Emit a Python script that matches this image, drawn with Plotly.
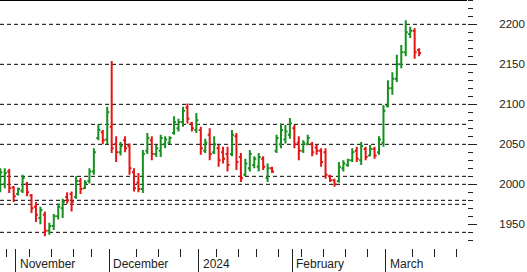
import plotly.graph_objects as go

# trading-day index (0 = Oct 26 2023 ... 94 = Mar 12 2024)
opens = [1998, 2000, 2016, 1996, 1988, 1992, 2000, 1986, 1972, 1958, 1962, 1942, 1948, 1960, 1970,
         1984, 1988, 1984, 2004, 1995, 2004, 2016, 2058, 2065, 2056, 2072, 2050, 2040, 2055, 2048,
         2015, 2002, 1994, 2042, 2055, 2038, 2042, 2050, 2052, 2064, 2070, 2078, 2096, 2076, 2068,
         2068, 2042, 2062, 2040, 2045, 2040, 2038, 2038, 2060, 2034, 2012, 2020, 2024, 2022, 2032,
         2008, 2020, 2042, 2050, 2056, 2062, 2070, 2052, 2042, 2050, 2050, 2046, 2042, 2040, 2010,
         2005, 2004, 2020, 2024, 2030, 2042, 2030, 2044, 2036, 2044, 2040, 2052, 2098, 2120, 2132,
         2150, 2165, 2188, 2192, 2168]
highs = [2020, 2020, 2019, 1998, 1996, 2012, 2003, 1988, 1978, 1972, 1966, 1952, 1963, 1976, 1982,
         1990, 1991, 2010, 2008, 2005, 2020, 2045, 2075, 2068, 2097, 2154, 2060, 2053, 2060, 2051,
         2020, 2014, 2043, 2064, 2060, 2049, 2062, 2060, 2060, 2085, 2082, 2097, 2101, 2078, 2089,
         2072, 2057, 2070, 2060, 2049, 2047, 2047, 2068, 2064, 2039, 2032, 2043, 2035, 2039, 2035,
         2026, 2022, 2062, 2076, 2074, 2083, 2074, 2060, 2055, 2062, 2053, 2049, 2045, 2045, 2012,
         2007, 2028, 2030, 2032, 2045, 2047, 2053, 2047, 2049, 2047, 2060, 2099, 2130, 2140, 2162,
         2174, 2205, 2197, 2195, 2170]
lows = [1990, 1995, 1989, 1978, 1986, 1989, 1985, 1964, 1953, 1950, 1935, 1937, 1943, 1956, 1958,
        1976, 1966, 1982, 1988, 1994, 2001, 2012, 2055, 2050, 2050, 2039, 2028, 2036, 2040, 2012,
        1991, 1990, 1989, 2038, 2030, 2034, 2034, 2045, 2050, 2062, 2066, 2072, 2076, 2066, 2064,
        2037, 2039, 2030, 2038, 2022, 2026, 2016, 2035, 2018, 2003, 2010, 2016, 2020, 2016, 2018,
        2003, 2014, 2039, 2045, 2051, 2057, 2045, 2030, 2039, 2049, 2035, 2037, 2022, 2007, 2003,
        1997, 2002, 2016, 2022, 2028, 2028, 2024, 2030, 2035, 2032, 2037, 2047, 2096, 2112, 2128,
        2145, 2160, 2183, 2157, 2160]
closes = [2015, 2014, 1995, 1985, 1994, 2008, 1990, 1970, 1962, 1968, 1942, 1948, 1960, 1972, 1978,
          1980, 1978, 2004, 1994, 2002, 2016, 2040, 2068, 2055, 2090, 2045, 2040, 2048, 2045, 2020,
          1995, 1994, 2038, 2058, 2038, 2045, 2058, 2056, 2058, 2078, 2078, 2092, 2082, 2070, 2080,
          2045, 2052, 2038, 2050, 2030, 2032, 2024, 2062, 2028, 2008, 2026, 2038, 2032, 2034, 2022,
          2020, 2016, 2058, 2068, 2066, 2076, 2050, 2042, 2052, 2058, 2040, 2042, 2028, 2012, 2005,
          2000, 2022, 2026, 2030, 2040, 2032, 2048, 2034, 2044, 2036, 2056, 2092, 2120, 2132, 2150,
          2165, 2190, 2192, 2165, 2164]

# support / resistance levels (dashed lines)
levels = [2200, 2150, 2100, 2075, 2050, 2010, 2000, 1980, 1975, 1940]

# x-axis ticks (in trading-day index units)
week_ticks = [1.5, 6.5, 11.5, 16.5, 20.5, 30.5, 35.5, 40.5, 48.5, 53.5, 57.5, 62.5,
              67.5, 72.5, 77.5, 82.5, 92.5, 97.5, 102.5]
month_ticks = [3.5, 24.5, 44.5, 65.5, 86.5]
month_labels = ["November", "December", "2024", "February", "March"]

y_ticks = [1950, 2000, 2050, 2100, 2150, 2200]

x = list(range(len(opens)))

GREEN = "#17901f"
RED = "#e51515"

fig = go.Figure()
fig.add_trace(go.Ohlc(
    x=x, open=opens, high=highs, low=lows, close=closes,
    increasing=dict(line=dict(color=GREEN, width=2)),
    decreasing=dict(line=dict(color=RED, width=2)),
    tickwidth=0.45, showlegend=False, hoverinfo="skip",
))

for lv in levels:
    fig.add_shape(type="line", xref="paper", x0=0, x1=1, yref="y", y0=lv, y1=lv,
                  line=dict(color="black", width=1, dash="4px,3px"), layer="below")

# top border
fig.add_shape(type="line", xref="paper", x0=0, x1=1, yref="paper", y0=1, y1=1,
              line=dict(color="black", width=2))

for mt, lab in zip(month_ticks, month_labels):
    fig.add_annotation(x=mt, y=0, xref="x", yref="paper", text=lab, showarrow=False,
                       xanchor="left", yanchor="top", xshift=2, yshift=-7,
                       font=dict(family="Liberation Sans, Arial", size=12, color="#222"))

fig.update_layout(
    width=527, height=272,
    margin=dict(l=0, r=60, t=0, b=24),
    paper_bgcolor="white", plot_bgcolor="white",
    xaxis=dict(
        range=[-0.07, 104.75], rangeslider=dict(visible=False),
        showgrid=False, zeroline=False, showline=False,
        tickmode="array", tickvals=month_ticks, ticktext=[""] * len(month_ticks),
        ticks="outside", ticklen=24, tickwidth=1, tickcolor="#222",
        showticklabels=False,
        minor=dict(tickmode="array", tickvals=week_ticks, ticks="outside",
                   ticklen=8, tickwidth=1, tickcolor="#222", showgrid=False),
    ),
    yaxis=dict(
        side="right", range=[1920.4, 2230.4],
        showgrid=False, zeroline=False, showline=False,
        tickmode="array", tickvals=y_ticks,
        ticks="outside", ticklen=9, tickwidth=1, tickcolor="#222",
        ticklabelstandoff=20,
        tickfont=dict(family="Liberation Sans, Arial", size=11.5, color="#222"),
        minor=dict(dtick=10, tick0=1920, ticks="outside", ticklen=5, tickwidth=1,
                   tickcolor="#222", showgrid=False),
    ),
)

fig.write_html("out.html")
